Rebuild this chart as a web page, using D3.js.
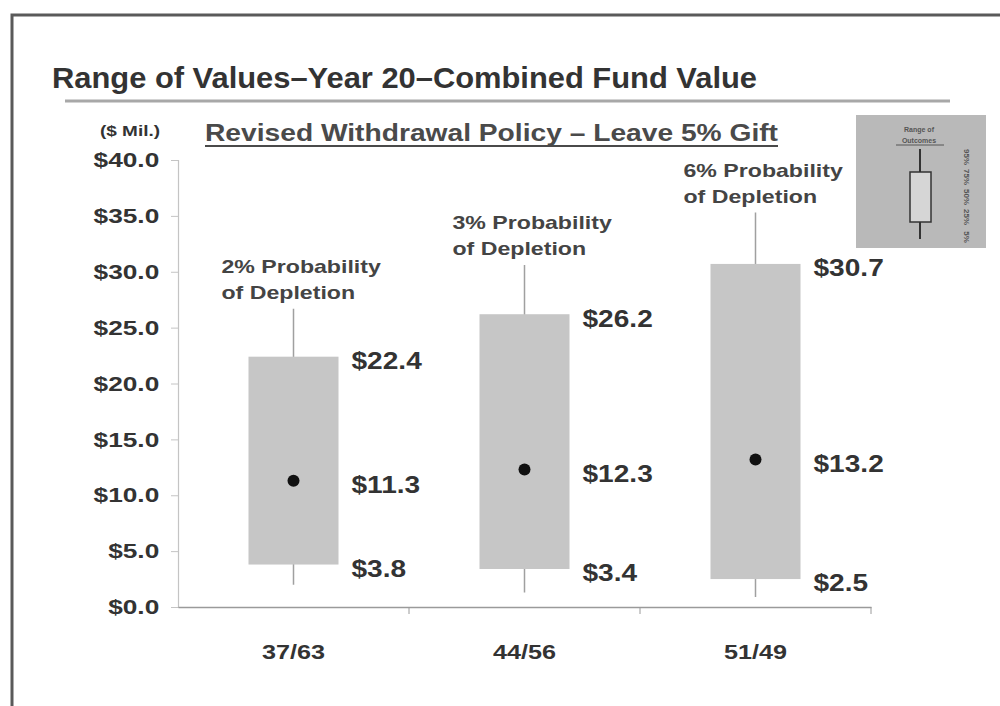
<!DOCTYPE html>
<html>
<head>
<meta charset="utf-8">
<script src="https://cdn.jsdelivr.net/npm/d3@7"></script>
<style>
  html, body { margin: 0; padding: 0; background: #fff; }
  svg { display: block; font-family: Arial, "Liberation Sans", sans-serif; }
</style>
</head>
<body>
<svg id="chart" width="1000" height="706"></svg>
<script>
// Allocation mixes (equity/fixed) and their year-20 fund value ranges, $ millions
const categories   = ["37/63", "44/56", "51/49"];
const depletion    = ["2%", "3%", "6%"];
const whiskerLow   = [2.0, 1.3, 0.9];
const boxLow       = [3.8, 3.4, 2.5];
const median       = [11.3, 12.3, 13.2];
const boxHigh      = [22.4, 26.2, 30.7];
const whiskerHigh  = [26.7, 30.6, 35.3];
const yTicks       = [0, 5, 10, 15, 20, 25, 30, 35, 40];
const legendLevels = ["95%", "75%", "50%", "25%", "5%"];

const rows = categories.map((c, i) => ({
  cat: c, dep: depletion[i], wl: whiskerLow[i], bl: boxLow[i],
  med: median[i], bh: boxHigh[i], wh: whiskerHigh[i]
}));

const svg = d3.select("#chart");
const ink = "#333";
const money = d => "$" + d.toFixed(1);
const FONT = "Arial, 'Liberation Sans', sans-serif";

// Slide frame
svg.append("path")
  .attr("d", "M12,706 L12,15 L1000,15")
  .attr("fill", "none").attr("stroke", "#5a5a5a").attr("stroke-width", 3);

// Title and its rule
svg.append("text")
  .attr("x", 52).attr("y", 88)
  .attr("font-size", 30).attr("font-weight", "bold").attr("fill", ink)
  .attr("textLength", 705).attr("lengthAdjust", "spacingAndGlyphs")
  .text("Range of Values\u2013Year 20\u2013Combined Fund Value");
svg.append("line")
  .attr("x1", 65).attr("x2", 950).attr("y1", 101).attr("y2", 101)
  .attr("stroke", "#a8a8a8").attr("stroke-width", 3);

// Subtitle (underlined)
svg.append("text")
  .attr("x", 205).attr("y", 141)
  .attr("font-size", 23).attr("font-weight", "bold").attr("fill", "#4a4a4a")
  .attr("textLength", 573).attr("lengthAdjust", "spacingAndGlyphs")
  .text("Revised Withdrawal Policy \u2013 Leave 5% Gift");
svg.append("line")
  .attr("x1", 205).attr("x2", 778).attr("y1", 146).attr("y2", 146)
  .attr("stroke", "#4a4a4a").attr("stroke-width", 2);

// Unit label
svg.append("text")
  .attr("x", 100).attr("y", 136)
  .attr("font-size", 14).attr("font-weight", "bold").attr("fill", ink)
  .attr("textLength", 60).attr("lengthAdjust", "spacingAndGlyphs")
  .text("($ Mil.)");

// Scales
const y = d3.scaleLinear().domain([0, 40]).range([607, 160]);
const x = d3.scaleBand().domain(categories).range([178, 871]).paddingInner(0).paddingOuter(0);
const boxW = 90;

// Y axis (labels drawn wide, as in the slide's stretched typeface)
const yAxis = svg.append("g")
  .attr("transform", "translate(178,0)")
  .call(d3.axisLeft(y).tickValues(yTicks).tickFormat(money).tickSize(7).tickPadding(8));
yAxis.select(".domain").attr("stroke", "#c4c4c4").attr("stroke-width", 1.2);
yAxis.selectAll(".tick line").attr("stroke", "#c4c4c4");
yAxis.selectAll(".tick text")
  .attr("transform", "scale(1.25,1)")
  .attr("font-size", 21).attr("font-weight", "bold").attr("fill", ink)
  .attr("font-family", FONT);

// X axis: category labels centred in bands, ticks at band boundaries
const xAxis = svg.append("g")
  .attr("transform", "translate(0,607)")
  .call(d3.axisBottom(x).tickSize(0).tickPadding(37));
xAxis.select(".domain").attr("stroke", "#9a9a9a").attr("stroke-width", 1.5);
xAxis.selectAll(".tick text")
  .attr("transform", "scale(1.2,1)")
  .attr("font-size", 21).attr("font-weight", "bold").attr("fill", ink)
  .attr("font-family", FONT);
xAxis.selectAll(".boundary")
  .data(categories)
  .join("line")
  .attr("class", "boundary")
  .attr("x1", d => x(d) + x.bandwidth()).attr("x2", d => x(d) + x.bandwidth())
  .attr("y1", 0).attr("y2", 7)
  .attr("stroke", "#9a9a9a");

// Box plots
const g = svg.append("g");
const cx = d => x(d.cat) + x.bandwidth() / 2;

g.selectAll(".whisker")
  .data(rows).join("line")
  .attr("class", "whisker")
  .attr("x1", cx).attr("x2", cx)
  .attr("y1", d => y(d.wh)).attr("y2", d => y(d.wl))
  .attr("stroke", "#a0a0a0").attr("stroke-width", 1.5);

g.selectAll(".box")
  .data(rows).join("rect")
  .attr("class", "box")
  .attr("x", d => cx(d) - boxW / 2).attr("width", boxW)
  .attr("y", d => y(d.bh)).attr("height", d => y(d.bl) - y(d.bh))
  .attr("fill", "#c6c6c6");

g.selectAll(".med")
  .data(rows).join("circle")
  .attr("class", "med")
  .attr("cx", cx).attr("cy", d => y(d.med)).attr("r", 6)
  .attr("fill", "#111");

// Value labels beside each box
const valueLabels = rows.flatMap(d => [
  { d, v: d.bh }, { d, v: d.med }, { d, v: d.bl }
]);
g.selectAll(".val")
  .data(valueLabels).join("text")
  .attr("class", "val")
  .attr("transform", e => `translate(${cx(e.d) + 58},${y(e.v) + 4}) scale(1.17,1)`)
  .attr("dy", "0.35em")
  .attr("font-size", 24).attr("font-weight", "bold").attr("fill", ink)
  .text(e => money(e.v));

// Depletion notes above each whisker
const notes = g.selectAll(".note")
  .data(rows).join("text")
  .attr("class", "note")
  .attr("transform", d => `translate(${cx(d) - 72},${y(d.wh)}) scale(1.25,1)`)
  .attr("font-size", 18.5).attr("font-weight", "bold").attr("fill", "#444");
notes.append("tspan").attr("x", 0).attr("y", -36)
  .text(d => d.dep + " Probability");
notes.append("tspan").attr("x", 0).attr("y", -10)
  .text("of Depletion");

// Legend key: a small box plot explaining the percentiles
const lg = svg.append("g").attr("transform", "translate(856,115)");
lg.append("rect").attr("width", 130).attr("height", 133).attr("fill", "#b9b9b9");
const ly = d3.scalePoint().domain(legendLevels).range([42, 122]);
lg.append("text").attr("x", 63).attr("y", 17).attr("text-anchor", "middle")
  .attr("font-size", 7).attr("font-weight", "bold").attr("fill", "#555").text("Range of");
lg.append("text").attr("x", 63).attr("y", 28).attr("text-anchor", "middle")
  .attr("font-size", 7).attr("font-weight", "bold").attr("fill", "#555").text("Outcomes");
lg.append("line").attr("x1", 40).attr("x2", 88).attr("y1", 30).attr("y2", 30)
  .attr("stroke", "#555").attr("stroke-width", 1);
lg.append("line").attr("x1", 64).attr("x2", 64)
  .attr("y1", ly("95%") - 8).attr("y2", ly("5%") + 2)
  .attr("stroke", "#333").attr("stroke-width", 2);
lg.append("rect")
  .attr("x", 54).attr("width", 21)
  .attr("y", ly("75%") - 5).attr("height", ly("25%") - ly("75%") + 10)
  .attr("fill", "#d6d6d6").attr("stroke", "#333").attr("stroke-width", 1.5);
lg.selectAll(".lvl")
  .data(legendLevels).join("text")
  .attr("class", "lvl")
  .attr("transform", d => `translate(108,${ly(d)}) rotate(90)`)
  .attr("text-anchor", "middle")
  .attr("font-size", 8).attr("font-weight", "bold").attr("fill", "#555")
  .text(d => d);
</script>
</body>
</html>
